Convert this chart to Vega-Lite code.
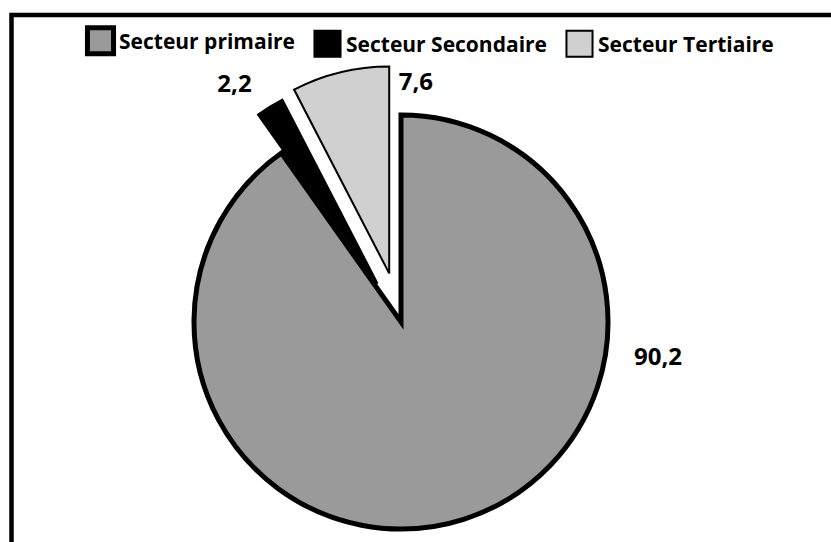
{
  "$schema": "https://vega.github.io/schema/vega-lite/v6.json",
  "width": 824,
  "height": 532,
  "autosize": {"type": "none"},
  "padding": {"left": 11.5, "top": 15, "right": -4.5, "bottom": -5},
  "background": "white",
  "config": {
    "view": {"stroke": null},
    "locale": {"number": {"decimal": ",", "thousands": " ", "grouping": [3], "currency": ["", " €"]}}
  },
  "data": {
    "values": [
      {"secteur": "Secteur primaire", "valeur": 90.2, "rang": 1},
      {"secteur": "Secteur Secondaire", "valeur": 2.2, "rang": 2},
      {"secteur": "Secteur Tertiaire", "valeur": 7.6, "rang": 3}
    ]
  },
  "transform": [
    {"stack": "valeur", "groupby": [], "sort": [{"field": "rang", "order": "ascending"}], "as": ["v0", "v1"]}
  ],
  "layer": [
    {
      "transform": [{"filter": "datum.rang == 1"}],
      "mark": {"type": "rect", "fill": null, "fillOpacity": 0, "stroke": "black", "strokeWidth": 4.5},
      "encoding": {}
    },
    {
      "transform": [{"filter": "datum.rang == 1"}],
      "mark": {"type": "arc", "radius": 207, "stroke": "black", "strokeWidth": 5, "xOffset": -22.5, "yOffset": 41},
      "encoding": {
        "theta": {"field": "v0", "type": "quantitative", "scale": {"domain": [0, 100]}, "stack": null},
        "theta2": {"field": "v1"},
        "color": {
          "field": "secteur", "type": "nominal",
          "scale": {"domain": ["Secteur primaire", "Secteur Secondaire", "Secteur Tertiaire"], "range": ["#9a9a9a", "#000000", "#d0d0d1"]},
          "legend": {
            "title": null, "orient": "none", "legendX": 78.5, "legendY": 15, "direction": "horizontal",
            "symbolType": "square", "symbolSize": 680, "symbolStrokeColor": "black", "symbolOpacity": 1,
            "labelFont": "Open Sans", "labelFontWeight": "bold", "labelFontSize": 21, "labelColor": "black",
            "labelOffset": 8, "labelLimit": 400, "columnPadding": 15, "padding": 0,
            "encode": {
              "symbols": {"update": {"strokeWidth": {"signal": "datum.value === 'Secteur primaire' ? 5 : 2"}, "stroke": {"value": "black"}}},
              "labels": {"update": {"dy": {"value": 2}}}
            }
          }
        }
      }
    },
    {
      "transform": [{"filter": "datum.rang == 2"}],
      "mark": {"type": "arc", "radius": 207, "stroke": "black", "strokeWidth": 2, "xOffset": -45.9, "yOffset": 2.6},
      "encoding": {
        "theta": {"field": "v0", "type": "quantitative", "scale": {"domain": [0, 100]}, "stack": null},
        "theta2": {"field": "v1"},
        "color": {"field": "secteur", "type": "nominal"}
      }
    },
    {
      "transform": [{"filter": "datum.rang == 3"}],
      "mark": {"type": "arc", "radius": 207, "stroke": "black", "strokeWidth": 2, "xOffset": -34.3, "yOffset": -7.6},
      "encoding": {
        "theta": {"field": "v0", "type": "quantitative", "scale": {"domain": [0, 100]}, "stack": null},
        "theta2": {"field": "v1"},
        "color": {"field": "secteur", "type": "nominal"}
      }
    },
    {
      "transform": [{"filter": "datum.rang == 1"}],
      "mark": {"type": "text", "radius": 0, "dx": 234.5, "dy": 77, "font": "Open Sans", "fontWeight": "bold", "fontSize": 24, "color": "black"},
      "encoding": {
        "theta": {"field": "v0", "type": "quantitative", "scale": {"domain": [0, 100]}, "stack": null},
        "text": {"field": "valeur", "type": "quantitative", "format": ".1f"}
      }
    },
    {
      "transform": [{"filter": "datum.rang == 2"}],
      "mark": {"type": "text", "radius": 250, "dx": -44.6, "dy": 8.1, "font": "Open Sans", "fontWeight": "bold", "fontSize": 24, "color": "black"},
      "encoding": {
        "theta": {"field": "v0", "type": "quantitative", "scale": {"domain": [0, 100]}, "stack": null},
        "text": {"field": "valeur", "type": "quantitative", "format": ".1f"}
      }
    },
    {
      "transform": [{"filter": "datum.rang == 3"}],
      "mark": {"type": "text", "radius": 245, "dx": 105, "dy": 19.6, "font": "Open Sans", "fontWeight": "bold", "fontSize": 24, "color": "black"},
      "encoding": {
        "theta": {"field": "v0", "type": "quantitative", "scale": {"domain": [0, 100]}, "stack": null},
        "text": {"field": "valeur", "type": "quantitative", "format": ".1f"}
      }
    }
  ]
}
